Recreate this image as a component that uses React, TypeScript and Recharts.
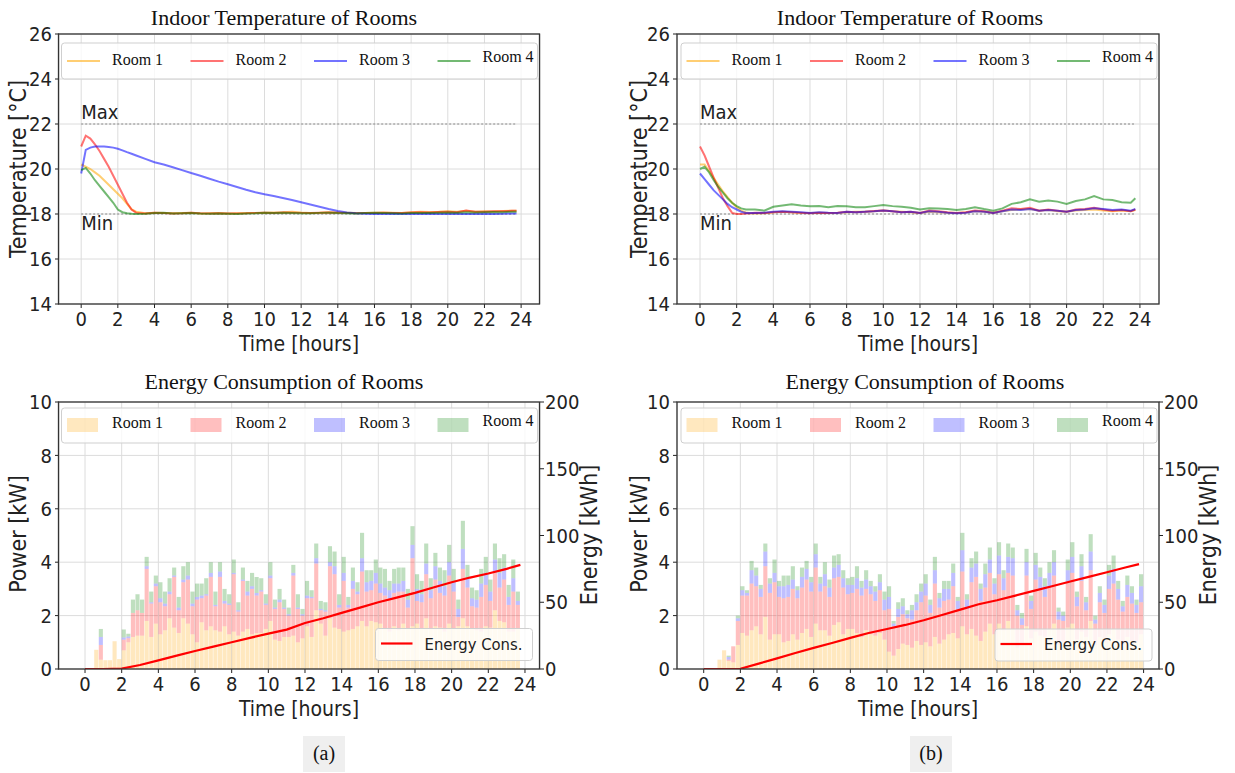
import React from 'react';
import {
  ComposedChart,
  Line,
  Bar,
  XAxis,
  YAxis,
  CartesianGrid,
  ReferenceLine,
} from 'recharts';

// time axis of the temperature curves (hours)
const tempHours = [
  0, 0.25, 0.5, 0.75, 1, 1.25, 1.5, 1.75, 2, 2.25, 2.5, 2.75, 3,
  3.5, 4, 4.5, 5, 5.5, 6, 6.5, 7, 7.5, 8, 8.5, 9, 9.5, 10, 10.5, 11, 11.5, 12,
  12.5, 13, 13.5, 14, 14.5, 15, 15.5, 16, 16.5, 17, 17.5, 18, 18.5, 19, 19.5, 20,
  20.5, 21, 21.5, 22, 22.5, 23, 23.5, 23.75,
];

// (a) indoor temperatures [°C]
const room1TempA = [
  20.2, 20.1, 20.0, 19.85, 19.7, 19.5, 19.3, 19.1, 18.9, 18.7, 18.45, 18.2, 18.1,
  18.03, 18.06, 18.05, 18.03, 18.04, 18.05, 18.02, 18.03, 18.04, 18.02, 18.03, 18.04, 18.05, 18.06,
  18.07, 18.08, 18.1, 18.07, 18.05, 18.06, 18.08, 18.07, 18.06, 18.04, 18.05, 18.06, 18.07, 18.06,
  18.05, 18.08, 18.1, 18.09, 18.1, 18.12, 18.1, 18.14, 18.1, 18.12, 18.11, 18.13, 18.15, 18.15,
];
const room2TempA = [
  21.0, 21.48, 21.35, 21.1, 20.8, 20.45, 20.1, 19.7, 19.3, 18.9, 18.5, 18.2, 18.05,
  18.02, 18.05, 18.04, 18.02, 18.03, 18.05, 18.03, 18.02, 18.03, 18.02, 18.02, 18.03, 18.05, 18.06,
  18.05, 18.07, 18.06, 18.05, 18.04, 18.06, 18.07, 18.06, 18.05, 18.03, 18.04, 18.05, 18.06, 18.05,
  18.04, 18.07, 18.08, 18.07, 18.09, 18.1, 18.08, 18.15, 18.1, 18.1, 18.12, 18.12, 18.14, 18.15,
];
const room3TempA = [
  19.8, 20.85, 20.95, 21.0, 21.0, 21.0, 20.98, 20.95, 20.9, 20.83, 20.75, 20.68, 20.6,
  20.45, 20.3, 20.2, 20.08, 19.95, 19.82, 19.7, 19.57, 19.44, 19.32, 19.2, 19.08, 18.97, 18.88,
  18.8, 18.71, 18.62, 18.52, 18.42, 18.32, 18.22, 18.13, 18.07, 18.03, 18.01, 18.0, 18.0, 18.01,
  18.0, 18.0, 18.0, 18.01, 18.0, 18.0, 18.01, 18.0, 18.0, 18.01, 18.0, 18.01, 18.02, 18.02,
];
const room4TempA = [
  19.95, 20.05, 19.8, 19.5, 19.25, 19.0, 18.75, 18.5, 18.2, 18.08, 18.03, 18.01, 18.0,
  18.01, 18.04, 18.05, 18.02, 18.03, 18.04, 18.02, 18.01, 18.02, 18.01, 18.0, 18.02, 18.03, 18.05,
  18.04, 18.05, 18.04, 18.03, 18.03, 18.05, 18.06, 18.04, 18.03, 18.02, 18.04, 18.05, 18.04, 18.03,
  18.02, 18.04, 18.05, 18.05, 18.06, 18.07, 18.06, 18.08, 18.07, 18.08, 18.09, 18.08, 18.1, 18.1,
];

// (b) indoor temperatures [°C]
const room1TempB = [
  20.2, 20.2, 19.9, 19.6, 19.3, 19.0, 18.75, 18.5, 18.3, 18.15, 18.07, 18.03, 18.02,
  18.03, 18.08, 18.1, 18.08, 18.05, 18.04, 18.06, 18.04, 18.05, 18.08, 18.1, 18.1, 18.12, 18.15,
  18.12, 18.1, 18.08, 18.05, 18.1, 18.08, 18.06, 18.05, 18.07, 18.12, 18.1, 18.06, 18.12, 18.18,
  18.2, 18.22, 18.15, 18.18, 18.12, 18.1, 18.15, 18.18, 18.2, 18.15, 18.12, 18.15, 18.12, 18.18,
];
const room2TempB = [
  21.0, 20.6, 20.1, 19.6, 19.15, 18.7, 18.35, 18.05, 18.0, 18.0, 18.02, 18.03, 18.05,
  18.04, 18.08, 18.1, 18.08, 18.06, 18.03, 18.05, 18.04, 18.06, 18.1, 18.08, 18.1, 18.13, 18.15,
  18.12, 18.08, 18.1, 18.05, 18.15, 18.12, 18.08, 18.05, 18.08, 18.15, 18.12, 18.05, 18.15, 18.25,
  18.22, 18.28, 18.15, 18.2, 18.15, 18.1, 18.2, 18.22, 18.28, 18.2, 18.15, 18.18, 18.12, 18.2,
];
const room3TempB = [
  19.8, 19.55, 19.3, 19.05, 18.85, 18.65, 18.45, 18.3, 18.2, 18.1, 18.05, 18.05, 18.05,
  18.06, 18.1, 18.12, 18.1, 18.08, 18.05, 18.08, 18.06, 18.05, 18.1, 18.08, 18.1, 18.12, 18.15,
  18.12, 18.08, 18.1, 18.05, 18.12, 18.1, 18.06, 18.03, 18.06, 18.12, 18.1, 18.04, 18.12, 18.2,
  18.18, 18.22, 18.15, 18.18, 18.14, 18.1, 18.18, 18.2, 18.26, 18.22, 18.18, 18.2, 18.15, 18.22,
];
const room4TempB = [
  20.0, 20.1, 19.85, 19.5, 19.2, 18.95, 18.7, 18.5, 18.35, 18.25, 18.2, 18.2, 18.2,
  18.15, 18.32, 18.38, 18.43, 18.38, 18.35, 18.36, 18.3, 18.35, 18.34, 18.3, 18.3, 18.35, 18.4,
  18.35, 18.32, 18.28, 18.2, 18.25, 18.24, 18.22, 18.18, 18.22, 18.3, 18.22, 18.15, 18.25, 18.45,
  18.52, 18.65, 18.55, 18.6, 18.55, 18.45, 18.58, 18.65, 18.8, 18.65, 18.62, 18.52, 18.5, 18.7,
];

// 15-minute steps of the power bars (bar starts, hours)
const quarterHours = [
  0, 0.25, 0.5, 0.75, 1, 1.25, 1.5, 1.75,
  2, 2.25, 2.5, 2.75, 3, 3.25, 3.5, 3.75,
  4, 4.25, 4.5, 4.75, 5, 5.25, 5.5, 5.75,
  6, 6.25, 6.5, 6.75, 7, 7.25, 7.5, 7.75,
  8, 8.25, 8.5, 8.75, 9, 9.25, 9.5, 9.75,
  10, 10.25, 10.5, 10.75, 11, 11.25, 11.5, 11.75,
  12, 12.25, 12.5, 12.75, 13, 13.25, 13.5, 13.75,
  14, 14.25, 14.5, 14.75, 15, 15.25, 15.5, 15.75,
  16, 16.25, 16.5, 16.75, 17, 17.25, 17.5, 17.75,
  18, 18.25, 18.5, 18.75, 19, 19.25, 19.5, 19.75,
  20, 20.25, 20.5, 20.75, 21, 21.25, 21.5, 21.75,
  22, 22.25, 22.5, 22.75, 23, 23.25, 23.5, 23.75,
];

// (a) power per room [kW]
const room1PowerA = [
  0, 0, 0.72, 0.35, 0.33, 0.33, 1.04, 0.37, 0.7, 1.0,
  1.2, 1.25, 1.25, 1.8, 1.2, 1.7, 1.3, 1.45, 1.9, 1.55,
  1.35, 1.9, 1.7, 1.3, 1.0, 1.75, 1.45, 1.6, 1.45, 1.4,
  1.6, 1.3, 1.4, 1.25, 1.4, 1.5, 1.3, 1.35, 1.35, 1.5,
  1.8, 1.1, 1.05, 1.2, 1.2, 1.25, 1.0, 1.15, 1.6, 1.2,
  2.2, 1.7, 1.25, 1.9, 1.55, 1.5, 1.4, 1.45, 1.5, 1.6,
  1.8, 1.6, 1.8, 1.75, 1.7, 1.5, 1.4, 1.6, 1.45, 1.7,
  1.5, 1.6, 1.7, 1.5, 1.9, 1.5, 1.6, 1.55, 1.4, 1.7,
  1.5, 1.6, 1.9, 1.6, 1.5, 1.45, 1.4, 1.6, 1.55, 2.2,
  1.8, 1.75, 1.4, 1.4, 1.5, 0,
];
const room2PowerA = [
  0, 0, 0, 0.55, 0, 0, 0, 0, 0.4, 0.15,
  0.9, 0.95, 0.85, 1.95, 1.25, 1.4, 1.2, 0.9, 0.9, 1.9,
  0.85, 1.35, 1.65, 1.05, 1.6, 0.9, 1.3, 1.85, 0.9, 2.05,
  0.85, 1.1, 2.15, 0.9, 1.9, 1.25, 1.7, 1.4, 1.55, 0.9,
  1.6, 1.15, 1.45, 1.05, 0.8, 2.25, 1.25, 0.85, 1.05, 1.45,
  1.75, 0.5, 0.9, 1.95, 2.0, 0.8, 1.9, 0.85, 1.5, 1.2,
  1.85, 1.3, 1.15, 1.45, 1.15, 1.25, 1.25, 1.25, 1.45, 1.2,
  0.8, 2.55, 0.85, 1.0, 1.65, 1.15, 1.75, 1.3, 1.35, 1.8,
  1.4, 0.35, 1.85, 1.45, 0.85, 0.85, 1.3, 1.55, 1.0, 1.4,
  1.25, 1.6, 1.0, 1.5, 0.9, 0,
];
const room3PowerA = [
  0, 0, 0, 0.3, 0, 0, 0, 0, 0.08, 0.07,
  0, 0, 0, 0.1, 0.05, 0.1, 0.15, 0.1, 0.1, 0.05,
  0.1, 0.1, 0.15, 0.1, 0.1, 0.1, 0.05, 0.15, 0.05, 0.2,
  0.1, 0.05, 0.05, 0.05, 0.05, 0.15, 0.1, 0.1, 0.05, 0.05,
  0.1, 0.05, 0.1, 0.05, 0.05, 0.1, 0.05, 0.05, 0.1, 0.05,
  0.2, 0.05, 0.05, 0.15, 0.3, 0.1, 0.3, 0.1, 0.3, 0.1,
  0.5, 0.35, 0.35, 0.4, 0.35, 0.3, 0.3, 0.35, 0.3, 0.4,
  0.3, 0.5, 0.45, 0.3, 0.4, 0.3, 0.5, 0.45, 0.35, 0.5,
  0.35, 0.3, 0.75, 0.35, 0.3, 0.3, 0.5, 0.45, 0.35, 0.5,
  0.55, 0.45, 0.3, 0.5, 0.15, 0,
];
const room4PowerA = [
  0, 0, 0, 0.3, 0, 0, 0, 0, 0.3, 0.1,
  0.5, 0.6, 0.5, 0.35, 0.4, 0.3, 0.6, 0.45, 0.5, 0.3,
  0.4, 0.5, 0.5, 0.45, 0.5, 0.45, 0.6, 0.4, 0.5, 0.35,
  0.45, 0.35, 0.5, 0.3, 0.45, 0.4, 0.5, 0.6, 0.45, 0.35,
  0.5, 0.3, 0.4, 0.3, 0.25, 0.3, 0.5, 0.2, 0.55, 0.25,
  0.55, 0.3, 0.3, 0.6, 0.55, 0.4, 0.6, 0.3, 0.5, 0.35,
  0.95, 0.45, 0.4, 0.5, 0.6, 0.7, 0.35, 0.55, 0.6, 0.5,
  0.4, 0.7, 0.55, 0.5, 0.75, 0.45, 0.5, 0.5, 0.6, 0.65,
  0.5, 0.35, 1.05, 0.5, 0.4, 0.35, 0.55, 0.6, 0.45, 0.6,
  0.55, 0.5, 0.45, 0.7, 0.35, 0,
];

// (b) power per room [kW]
const room1PowerB = [
  0, 0, 0, 0.35, 0.7, 0.3, 0.25, 0.9,
  1.35, 1.25, 1.45, 1.6, 1.3, 1.95, 1.1, 1.3, 1.3, 1.0,
  1.05, 1.3, 1.1, 1.35, 1.5, 1.2, 1.7, 1.45, 1.45, 1.25,
  1.65, 1.75, 1.3, 1.5, 1.5, 1.35, 1.2, 1.45, 1.3, 1.25,
  1.35, 1.1, 0.65, 0.5, 0.75, 0.95, 0.9, 0.8, 1.05, 0.9,
  1.0, 0.85, 1.2, 0.95, 1.1, 1.3, 1.35, 1.15, 1.6, 1.3,
  1.5, 1.25, 1.05, 1.4, 1.7, 1.3, 1.7, 1.45, 1.8, 1.5,
  0.8, 0.9, 1.6, 1.15, 1.4, 1.25, 1.2, 1.5, 1.7, 0.9,
  1.0, 1.55, 1.7, 1.1, 1.4, 1.2, 1.8, 0.9, 1.2, 1.0,
  1.3, 1.5, 1.1, 0.95, 1.2, 1.05, 1.0, 1.3,
];
const room2PowerB = [
  0, 0, 0, 0, 0, 0.05, 0.6, 0.9,
  1.4, 1.5, 1.75, 1.5, 1.4, 1.9, 1.75, 1.95, 1.4, 1.65,
  1.65, 1.7, 1.55, 1.7, 1.85, 1.7, 2.1, 1.45, 1.65, 1.45,
  1.75, 1.7, 1.75, 1.3, 1.35, 1.65, 1.55, 1.55, 1.5, 1.3,
  1.6, 1.1, 1.6, 1.1, 1.2, 1.1, 1.0, 1.05, 1.15, 1.6,
  1.75, 1.25, 2.0, 1.35, 1.45, 1.3, 1.75, 1.1, 2.05, 0.95,
  1.75, 2.2, 1.5, 1.65, 1.9, 1.5, 1.85, 1.5, 1.8, 2.0,
  1.2, 0.75, 1.9, 1.1, 1.95, 1.7, 1.5, 1.6, 1.8, 0.95,
  0.8, 1.7, 1.9, 1.25, 1.9, 1.0, 1.9, 0.8, 1.3, 1.1,
  1.7, 1.7, 1.5, 1.2, 1.5, 1.4, 1.1, 1.2,
];
const room3PowerB = [
  0, 0, 0, 0, 0, 0.1, 0, 0.1,
  0.2, 0.1, 0.5, 0.4, 0.3, 0.55, 0.35, 0.35, 0.4, 0.45,
  0.45, 0.35, 0.3, 0.4, 0.4, 0.35, 0.5, 0.3, 0.45, 0.35,
  0.4, 0.45, 0.35, 0.35, 0.3, 0.4, 0.3, 0.35, 0.3, 0.35,
  0.3, 0.4, 0.45, 0.1, 0.3, 0.3, 0.15, 0.35, 0.3, 0.4,
  0.45, 0.3, 0.5, 0.35, 0.45, 0.4, 0.5, 0.3, 0.8, 0.35,
  0.55, 0.5, 0.45, 0.5, 0.5, 0.4, 0.7, 0.45, 0.6, 0.65,
  0.2, 0.25, 0.5, 0.3, 0.55, 0.5, 0.4, 0.5, 0.5, 0.3,
  0.2, 0.45, 0.6, 0.35, 0.55, 0.3, 0.7, 0.15, 0.35, 0.3,
  0.5, 0.55, 0.4, 0.2, 0.45, 0.4, 0.3, 0.6,
];
const room4PowerB = [
  0, 0, 0, 0, 0, 0.05, 0, 0.1,
  0.15, 0.1, 0.35, 0.3, 0.15, 0.3, 0.2, 0.5, 0.2, 0.4,
  0.35, 0.5, 0.15, 0.35, 0.3, 0.2, 0.4, 0.25, 0.45, 0.3,
  0.45, 0.4, 0.3, 0.25, 0.3, 0.45, 0.25, 0.35, 0.2, 0.2,
  0.3, 0.3, 0.4, 0.1, 0.25, 0.3, 0.15, 0.2, 0.3, 0.3,
  0.35, 0.2, 0.5, 0.2, 0.3, 0.3, 0.35, 0.15, 0.65, 0.2,
  0.35, 0.45, 0.2, 0.4, 0.45, 0.2, 0.5, 0.3, 0.5, 0.4,
  0.2, 0.2, 0.5, 0.2, 0.45, 0.35, 0.3, 0.4, 0.45, 0.15,
  0.15, 0.4, 0.55, 0.2, 0.45, 0.2, 0.65, 0.15, 0.25, 0.2,
  0.4, 0.5, 0.3, 0.2, 0.35, 0.25, 0.2, 0.45,
];

// cumulative energy [kWh]
const energyHours = [0, 1, 2, 3, 4, 5, 6, 7, 8, 9, 10, 11, 12, 13, 14, 15, 16, 17, 18, 19, 20, 21, 22, 23, 23.75];
const energyA = [0, 0, 0.3, 3, 6.5, 10, 13.5, 16.8, 20, 23.3, 26.5, 29.5, 34.5, 38, 42, 46, 50, 53.5, 57, 61, 65, 68.5, 71.5, 75, 78];
const energyB = [0, 0, 0.2, 4, 8, 12, 15.8, 19.5, 23.3, 27, 30, 33, 36.5, 40.5, 44.5, 48.5, 51.5, 55, 58.5, 62, 65.5, 69, 72.5, 76, 78.6];

const hourTicks = [0, 2, 4, 6, 8, 10, 12, 14, 16, 18, 20, 22, 24];
const tempTicks = [14, 16, 18, 20, 22, 24, 26];
const powerTicks = [0, 2, 4, 6, 8, 10];
const energyTicks = [0, 50, 100, 150, 200];

const rooms = [
  { key: 'r1', name: 'Room 1', color: '#ffa500' },
  { key: 'r2', name: 'Room 2', color: '#ff0000' },
  { key: 'r3', name: 'Room 3', color: '#0000ff' },
  { key: 'r4', name: 'Room 4', color: '#008000' },
];

const tempDataA = tempHours.map((t, i) => ({ t, r1: room1TempA[i], r2: room2TempA[i], r3: room3TempA[i], r4: room4TempA[i] }));
const tempDataB = tempHours.map((t, i) => ({ t, r1: room1TempB[i], r2: room2TempB[i], r3: room3TempB[i], r4: room4TempB[i] }));
const powerDataA = quarterHours.map((t, i) => ({ t, r1: room1PowerA[i], r2: room2PowerA[i], r3: room3PowerA[i], r4: room4PowerA[i] }));
const powerDataB = quarterHours.map((t, i) => ({ t, r1: room1PowerB[i], r2: room2PowerB[i], r3: room3PowerB[i], r4: room4PowerB[i] }));
const energyDataA = energyHours.map((t, i) => ({ t, e: energyA[i] }));
const energyDataB = energyHours.map((t, i) => ({ t, e: energyB[i] }));

const SANS = '"DejaVu Sans Condensed", "DejaVu Sans", sans-serif';
const SERIF = '"Liberation Serif", "DejaVu Serif", serif';
const INK = '#222';
const tickStyle = { fontSize: 20, fontFamily: SANS, fill: INK };

type Box = { x: number; y: number; w: number; h: number };

// plot areas in page pixels
const boxTA: Box = { x: 58.5, y: 34, w: 481, h: 270 };
const boxTB: Box = { x: 677, y: 34, w: 482, h: 270 };
const boxPA: Box = { x: 58.5, y: 402, w: 481, h: 267 };
const boxPB: Box = { x: 677, y: 402, w: 482, h: 267 };

const refText = (text: string, dy: number) => (props: any) => {
  const vb = props.viewBox || {};
  return (
    <text x={vb.x} y={vb.y + dy} fontSize={20} fontFamily={SANS} fill={INK}>
      {text}
    </text>
  );
};

function TempChart({ box, domain, data }: { box: Box; domain: [number, number]; data: any[] }) {
  const padL = 60, padR = 10, padT = 20, padB = 40;
  return (
    <div style={{ position: 'absolute', left: box.x - padL, top: box.y - padT }}>
      <ComposedChart
        width={box.w + padL + padR}
        height={box.h + padT + padB}
        data={data}
        margin={{ top: padT, right: padR, bottom: padB - 36, left: 0 }}
      >
        <CartesianGrid stroke="#dcdcdc" />
        <XAxis type="number" dataKey="t" domain={domain} ticks={hourTicks} interval={0} allowDataOverflow
          height={36} axisLine={false} tickSize={4} tickMargin={4} tickLine={{ stroke: INK }} tick={tickStyle} />
        <YAxis type="number" domain={[14, 26]} ticks={tempTicks} interval={0} allowDataOverflow
          width={padL} axisLine={false} tickSize={4} tickMargin={3} tickLine={{ stroke: INK }} tick={tickStyle} />
        <ReferenceLine segment={[{ x: 0, y: 22 }, { x: 23.75, y: 22 }]} stroke="#8a8a8a" strokeDasharray="2 2"
          label={refText('Max', -5)} />
        <ReferenceLine segment={[{ x: 0, y: 18 }, { x: 23.75, y: 18 }]} stroke="#8a8a8a" strokeDasharray="2 2"
          label={refText('Min', 16)} />
        {rooms.map((r) => (
          <Line key={r.key} type="linear" dataKey={r.key} stroke={r.color} strokeOpacity={0.55}
            strokeWidth={2} dot={false} isAnimationActive={false} />
        ))}
      </ComposedChart>
    </div>
  );
}

function EnergyChart({ box, domain, data, energy }: { box: Box; domain: [number, number]; data: any[]; energy: any[] }) {
  const padL = 60, padR = 60, padT = 20, padB = 40;
  const barW = (box.w / (domain[1] - domain[0])) * 0.25;
  return (
    <div style={{ position: 'absolute', left: box.x - padL, top: box.y - padT }}>
      <ComposedChart
        width={box.w + padL + padR}
        height={box.h + padT + padB}
        data={data}
        margin={{ top: padT, right: 0, bottom: padB - 36, left: 0 }}
      >
        <CartesianGrid stroke="#dcdcdc" xAxisId="main" yAxisId="power" />
        <XAxis xAxisId="main" type="number" dataKey="t" domain={domain} ticks={hourTicks} interval={0} allowDataOverflow
          height={36} axisLine={false} tickSize={4} tickMargin={4} tickLine={{ stroke: INK }} tick={tickStyle} />
        {/* bars are drawn edge-aligned: each one starts at its quarter hour */}
        <XAxis xAxisId="bar" orientation="top" type="number" dataKey="t"
          domain={[domain[0] - 0.125, domain[1] - 0.125]} allowDataOverflow hide height={0} />
        <YAxis yAxisId="power" type="number" domain={[0, 10]} ticks={powerTicks} interval={0} allowDataOverflow
          width={padL} axisLine={false} tickSize={4} tickMargin={3} tickLine={{ stroke: INK }} tick={tickStyle} />
        <YAxis yAxisId="energy" orientation="right" type="number" domain={[0, 200]} ticks={energyTicks} interval={0}
          allowDataOverflow width={padR} axisLine={false} tickSize={4} tickMargin={1} tickLine={{ stroke: INK }}
          tick={tickStyle} />
        {rooms.map((r) => (
          <Bar key={r.key} xAxisId="bar" yAxisId="power" dataKey={r.key} stackId="p" fill={r.color}
            fillOpacity={0.25} barSize={barW} isAnimationActive={false} />
        ))}
        <Line xAxisId="main" yAxisId="energy" data={energy} dataKey="e" type="linear" stroke="#ff0000"
          strokeWidth={2.2} dot={false} isAnimationActive={false} />
      </ComposedChart>
    </div>
  );
}

function LineLegend({ x, y, w }: { x: number; y: number; w: number }) {
  return (
    <g>
      <rect x={x} y={y} width={w} height={36} rx={3} fill="#fff" fillOpacity={0.8} stroke="#cfcfcf" />
      {rooms.map((r, i) => {
        const hx = x + 5.5 + i * 123.5;
        return (
          <g key={r.key}>
            <line x1={hx} x2={hx + 33} y1={y + 18} y2={y + 18} stroke={r.color} strokeOpacity={0.55} strokeWidth={2.2} />
            <text x={hx + 45} y={y + (i === 3 ? 18.5 : 22)} fontSize={16} fontFamily={SERIF} fill="#111">{r.name}</text>
          </g>
        );
      })}
    </g>
  );
}

function PatchLegend({ x, y, w }: { x: number; y: number; w: number }) {
  return (
    <g>
      <rect x={x} y={y} width={w} height={35} rx={3} fill="#fff" fillOpacity={0.8} stroke="#cfcfcf" />
      {rooms.map((r, i) => {
        const hx = x + 5.5 + i * 123.5;
        return (
          <g key={r.key}>
            <rect x={hx} y={y + 10} width={31} height={14} fill={r.color} fillOpacity={0.25} />
            <text x={hx + 45} y={y + (i === 3 ? 18 : 20)} fontSize={16} fontFamily={SERIF} fill="#111">{r.name}</text>
          </g>
        );
      })}
    </g>
  );
}

function EnergyLegend({ x, y }: { x: number; y: number }) {
  return (
    <g>
      <rect x={x} y={y} width={157} height={32} rx={3} fill="#fff" fillOpacity={0.8} stroke="#cfcfcf" />
      <line x1={x + 5.5} x2={x + 37} y1={y + 15} y2={y + 15} stroke="#ff0000" strokeWidth={2.2} />
      <text x={x + 49} y={y + 21} fontSize={16.5} fontFamily={SANS} fill={INK}>Energy Cons.</text>
    </g>
  );
}

function Overlay() {
  const spines = [boxTA, boxTB, boxPA, boxPB];
  const vLabel = (text: string, x: number, y: number) => (
    <text x={x} y={y} transform={`rotate(-90 ${x} ${y})`} textAnchor="middle" fontSize={23} fontFamily={SANS} fill={INK}>
      {text}
    </text>
  );
  const xLabel = (x: number, y: number) => (
    <text x={x} y={y} textAnchor="middle" fontSize={21} fontFamily={SANS} fill={INK}>Time [hours]</text>
  );
  return (
    <svg width={1235} height={773} style={{ position: 'absolute', left: 0, top: 0, pointerEvents: 'none' }}>
      {spines.map((b, i) => (
        <rect key={i} x={b.x} y={b.y} width={b.w} height={b.h} fill="none" stroke="#333" strokeWidth={1.3} />
      ))}

      <text x={284} y={25} textAnchor="middle" fontSize={22} fontFamily={SERIF} fill="#111">Indoor Temperature of Rooms</text>
      <text x={910} y={25} textAnchor="middle" fontSize={22} fontFamily={SERIF} fill="#111">Indoor Temperature of Rooms</text>
      <text x={284} y={389} textAnchor="middle" fontSize={22} fontFamily={SERIF} fill="#111">Energy Consumption of Rooms</text>
      <text x={925} y={389} textAnchor="middle" fontSize={22} fontFamily={SERIF} fill="#111">Energy Consumption of Rooms</text>

      {xLabel(299, 351)}
      {xLabel(918, 351)}
      {xLabel(299, 716)}
      {xLabel(918, 716)}

      {vLabel('Temperature [°C]', 26, 169)}
      {vLabel('Temperature [°C]', 647, 169)}
      {vLabel('Power [kW]', 26, 534)}
      {vLabel('Power [kW]', 647, 534)}
      {vLabel('Energy [kWh]', 597, 535)}
      {vLabel('Energy [kWh]', 1216, 535)}

      <LineLegend x={61.5} y={43} w={476} />
      <LineLegend x={681} y={43} w={476} />
      <PatchLegend x={61.5} y={408} w={476} />
      <PatchLegend x={681} y={408} w={476} />
      <EnergyLegend x={375.5} y={628.5} />
      <EnergyLegend x={995} y={629} />

      <rect x={303} y={736} width={42} height={36} fill="#efefef" />
      <text x={324} y={760} textAnchor="middle" fontSize={20} fontFamily={SERIF} fill="#111">(a)</text>
      <rect x={910} y={736} width={42} height={36} fill="#efefef" />
      <text x={931} y={760} textAnchor="middle" fontSize={20} fontFamily={SERIF} fill="#111">(b)</text>
    </svg>
  );
}

export default function App() {
  return (
    <div style={{ position: 'absolute', left: 0, top: 0, width: 1235, height: 773, background: '#fff', overflow: 'hidden' }}>
      <TempChart box={boxTA} domain={[-1.21, 25.03]} data={tempDataA} />
      <TempChart box={boxTB} domain={[-1.255, 25.04]} data={tempDataB} />
      <EnergyChart box={boxPA} domain={[-1.42, 24.82]} data={powerDataA} energy={energyDataA} />
      <EnergyChart box={boxPB} domain={[-1.457, 24.84]} data={powerDataB} energy={energyDataB} />
      <Overlay />
    </div>
  );
}
